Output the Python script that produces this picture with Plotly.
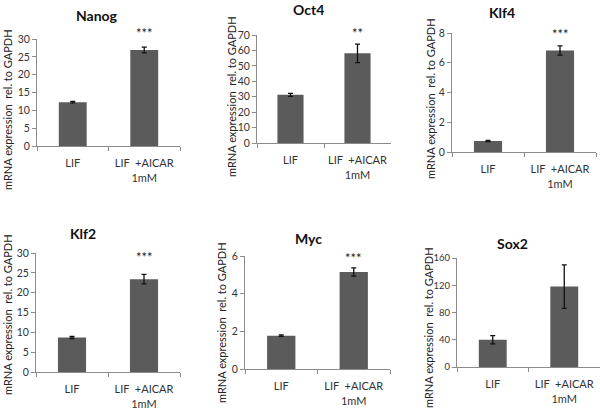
import plotly.graph_objects as go

W, H = 600, 409
categories = ["LIF", "LIF\u00a0\u00a0+AICAR<br>1mM"]
genes = ["Nanog", "Oct4", "Klf4", "Klf2", "Myc", "Sox2"]
nanog_vals = [12.3, 26.9]
nanog_err = [0.2, 0.8]
oct4_vals = [31.2, 58.1]
oct4_err = [1.0, 6.0]
klf4_vals = [0.74, 6.82]
klf4_err = [0.04, 0.31]
klf2_vals = [8.7, 23.4]
klf2_err = [0.25, 1.2]
myc_vals = [1.77, 5.15]
myc_err = [0.04, 0.22]
sox2_vals = [40, 118]
sox2_err = [6, 32]
stars = ["***", "**", "***", "***", "***", ""]
y_max = [30, 70, 8, 30, 6, 160]
y_dtick = [5, 10, 2, 5, 2, 40]

values = [nanog_vals, oct4_vals, klf4_vals, klf2_vals, myc_vals, sox2_vals]
errors = [nanog_err, oct4_err, klf4_err, klf2_err, myc_err, sox2_err]

# panel geometry in pixels: x0, x1, ytop, ybottom
boxes = [
    (37, 180, 39, 146),
    (257, 391, 35, 143),
    (452, 596, 33, 152),
    (36, 180, 253, 372),
    (245, 390, 256, 369),
    (457, 600, 258, 367),
]
title_pos = [(97, 15), (308, 9), (502, 13), (83, 233), (308, 238), (512, 243)]
ytitle_pos = [(7, 110), (231, 97), (431, 99), (7, 315), (221, 323), (428, 328)]
star_y = [33, 33, 34, 257, 258, 258]

FONT = "Lato, Liberation Sans, Arial, sans-serif"
fig = go.Figure()
layout = dict(
    width=W, height=H, margin=dict(l=0, r=0, t=0, b=0),
    paper_bgcolor="white", plot_bgcolor="white", showlegend=False,
    font=dict(family=FONT, color="#333333"),
)
annotations = []
for i in range(6):
    n = "" if i == 0 else str(i + 1)
    x0, x1, yt, yb = boxes[i]
    fig.add_trace(go.Bar(
        x=categories, y=values[i], width=0.39,
        marker=dict(color="#5b5b5b", line=dict(width=0)),
        error_y=dict(type="data", array=errors[i], color="#111111", thickness=1.3, width=2.5),
        xaxis="x" + n, yaxis="y" + n, hoverinfo="skip",
    ))
    layout["xaxis" + n] = dict(
        domain=[x0 / W, x1 / W], anchor="y" + n, type="category",
        showline=True, linecolor="#8c8c8c", linewidth=1,
        ticks="outside", tickson="boundaries", ticklen=4, tickcolor="#8c8c8c",
        tickangle=0, automargin=False,
        tickfont=dict(size=11, color="#333333"), ticklabelstandoff=7,
        showgrid=False, zeroline=False, fixedrange=True,
    )
    layout["yaxis" + n] = dict(
        domain=[1 - yb / H, 1 - yt / H], anchor="x" + n,
        range=[0, y_max[i]], tickmode="linear", dtick=y_dtick[i], tick0=0,
        showline=True, linecolor="#8c8c8c", linewidth=1,
        ticks="outside", ticklen=4, tickcolor="#8c8c8c", automargin=False,
        tickfont=dict(size=10.5, color="#333333"),
        showgrid=False, zeroline=False, fixedrange=True,
    )
    tx, ty = title_pos[i]
    annotations.append(dict(text="<b>" + genes[i] + "</b>", x=tx / W, y=1 - ty / H,
                            xref="paper", yref="paper", showarrow=False,
                            font=dict(size=14, color="#111111"), xanchor="center", yanchor="middle"))
    yx, yy = ytitle_pos[i]
    annotations.append(dict(text="mRNA expression\u00a0 rel. to GAPDH", x=yx / W, y=1 - yy / H,
                            xref="paper", yref="paper", showarrow=False, textangle=-90,
                            font=dict(size=11, color="#222222"), xanchor="center", yanchor="middle"))
    if stars[i]:
        annotations.append(dict(text=stars[i], x=categories[1], y=1 - star_y[i] / H,
                                xref="x" + n, yref="paper", showarrow=False,
                                font=dict(size=13, color="#222222"), xanchor="center", yanchor="middle"))

layout["annotations"] = annotations
fig.update_layout(**layout)
# Sox2 panel: slightly smaller tick labels so the 3-digit values do not collide with the title
fig.update_layout(yaxis6=dict(tickfont=dict(size=9.5)))
fig.write_html("out.html", config={"displayModeBar": False},
               post_script="document.body.style.margin='0';document.body.style.overflow='hidden';")
